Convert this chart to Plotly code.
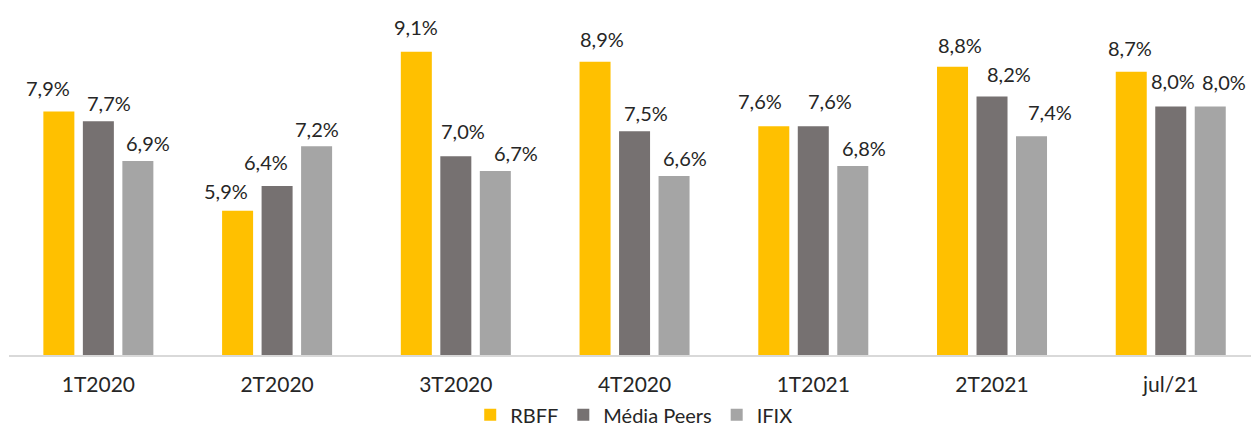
import plotly.graph_objects as go

# Dividend yield by period
periods = ["1T2020", "2T2020", "3T2020", "4T2020", "1T2021", "2T2021", "jul/21"]
rbff = [7.9, 5.9, 9.1, 8.9, 7.6, 8.8, 8.7]
media_peers = [7.7, 6.4, 7.0, 7.5, 7.6, 8.2, 8.0]
ifix = [6.9, 7.2, 6.7, 6.6, 6.8, 7.4, 8.0]

series_names = ["RBFF", "Média Peers", "IFIX"]
series_values = [rbff, media_peers, ifix]
series_colors = ["#FFC000", "#767171", "#A5A5A5"]

# Hand-placed label nudges (px) relative to each bar: horizontal, and gap above bar top
label_dx = [
    [-11, -12, 0, 7, -14, 7, -1],
    [11, -11, 7, 11, 17, 17, 2],
    [10, 0, 21, 11, 11, 18, 14],
]
label_gap = [
    [16, 13, 18, 16, 18, 15, 17],
    [11, 17, 18, 11, 18, 15, 18],
    [11, 10, 11, 11, 11, 17, 17],
]

BARGAP = 0.337
GROUPGAP = 0.215
FONT = "Lato, 'Open Sans', sans-serif"
TEXT_COLOR = "#262626"

fig = go.Figure()
for name, vals, color in zip(series_names, series_values, series_colors):
    fig.add_trace(go.Bar(
        x=periods, y=vals, name=name,
        marker=dict(color=color, line=dict(width=0)),
        hoverinfo="skip",
    ))

slot = (1 - BARGAP) / 3
annotations = []
for s, vals in enumerate(series_values):
    for i, v in enumerate(vals):
        annotations.append(dict(
            x=i + (s - 1) * slot, y=v, xref="x", yref="y",
            text=f"{v:.1f}%".replace(".", ","),
            showarrow=False, xanchor="center", yanchor="bottom",
            xshift=label_dx[s][i], yshift=label_gap[s][i] - 7,
            font=dict(family=FONT, size=20, color=TEXT_COLOR),
        ))

fig.update_layout(
    width=1251, height=426,
    margin=dict(l=9, r=0, t=7, b=71, autoexpand=False),
    paper_bgcolor="white", plot_bgcolor="white",
    barmode="group", bargap=BARGAP, bargroupgap=GROUPGAP,
    showlegend=True,
    legend=dict(
        orientation="h", x=0.503, xanchor="center",
        y=-0.172, yanchor="middle",
        font=dict(family=FONT, size=20, color=TEXT_COLOR),
        bgcolor="rgba(0,0,0,0)",
    ),
    annotations=annotations,
    xaxis=dict(
        type="category", range=[-0.5, 6.449],
        showline=True, linecolor="#D9D9D9", linewidth=2,
        showgrid=False, zeroline=False, ticks="",
        tickfont=dict(family=FONT, size=21, color=TEXT_COLOR),
        ticklabelstandoff=10,
        fixedrange=True,
    ),
    yaxis=dict(
        range=[3, 10], visible=False, showgrid=False, zeroline=False,
        fixedrange=True,
    ),
)

fig.write_html("out.html", config={"displayModeBar": False})
